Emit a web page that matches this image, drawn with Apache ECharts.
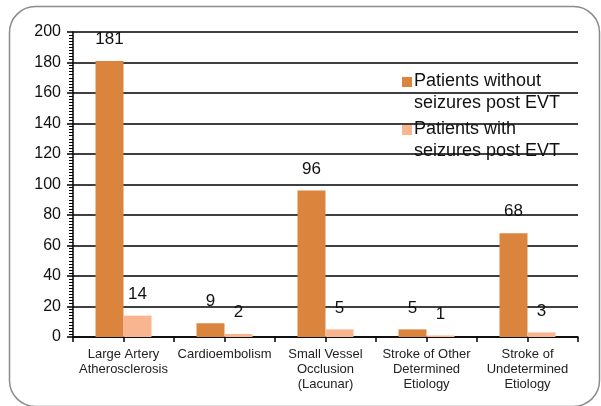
<!DOCTYPE html>
<html lang="en">
<head>
    <meta charset="UTF-8">
    <title>Seizures post EVT by stroke etiology</title>
    <script src="https://cdn.jsdelivr.net/npm/echarts@6/dist/echarts.min.js"></script>
    <style>
        html, body { margin: 0; padding: 0; background: #fff; }
    </style>
</head>
<body>
    <div id="main" style="width: 601px;height:406px;"></div>
    <script type="text/javascript">
        // 数据
        var categories = [
            'Large Artery\nAtherosclerosis',
            'Cardioembolism',
            'Small Vessel\nOcclusion\n(Lacunar)',
            'Stroke of Other\nDetermined\nEtiology',
            'Stroke of\nUndetermined\nEtiology'
        ];
        var withoutSeizures = [181, 9, 96, 5, 68];
        var withSeizures = [14, 2, 5, 1, 3];
        var seriesNames = ['Patients without\nseizures post EVT', 'Patients with\nseizures post EVT'];
        var yTicks = { min: 0, max: 200, interval: 20 };

        var myChart = echarts.init(document.getElementById('main'));
        var font = 'Liberation Sans, Arial, sans-serif';
        // 图例图标：方块在上，对齐第一行文字
        var legendIcon = 'path://M0,0L10,0L10,10L0,10Z M0,30L0.001,30';

        var option = {
            animation: false,
            textStyle: { fontFamily: font },
            graphic: [{
                type: 'rect',
                left: 7, top: 4,
                shape: { width: 590, height: 400, r: 26 },
                style: { fill: 'none', stroke: '#8c8c8c', lineWidth: 1.5 },
                z: -1
            }],
            legend: {
                orient: 'vertical',
                left: 402,
                top: 70,
                padding: 0,
                itemWidth: 10,
                itemHeight: 30,
                itemGap: 4,
                icon: legendIcon,
                textStyle: { fontFamily: font, fontSize: 18, color: '#111', lineHeight: 22, padding: [0, 0, 0, -3] },
                data: seriesNames
            },
            grid: { left: 73, right: 23, top: 32, bottom: 69 },
            xAxis: [{
                type: 'category',
                data: categories,
                axisLine: { lineStyle: { color: '#000', width: 1.5 } },
                axisTick: { show: false },
                axisLabel: { fontFamily: font, fontSize: 13, color: '#222', lineHeight: 15, margin: 10, interval: 0 }
            }, {
                // 仅用于绘制半类目刻度
                type: 'category',
                position: 'bottom',
                data: ['', '', '', '', '', '', '', '', '', ''],
                axisLine: { show: false },
                axisTick: { show: true, length: 5, lineStyle: { color: '#000', width: 1.5 } },
                axisLabel: { show: false }
            }],
            yAxis: {
                type: 'value',
                min: yTicks.min,
                max: yTicks.max,
                interval: yTicks.interval,
                axisLine: { show: true, lineStyle: { color: '#000', width: 1.5 } },
                axisTick: { show: true, length: 6, lineStyle: { color: '#000', width: 1.5 } },
                minorTick: { show: true, splitNumber: 10, length: 4, lineStyle: { color: '#000', width: 1 } },
                splitLine: { lineStyle: { color: '#000', width: 1.5 } },
                axisLabel: { fontFamily: font, fontSize: 16, color: '#111', margin: 12 }
            },
            series: [{
                name: seriesNames[0],
                type: 'bar',
                data: withoutSeizures,
                barWidth: 28,
                barGap: '0%',
                itemStyle: { color: '#DB843D' },
                label: { show: true, position: 'top', distance: 13, fontFamily: font, fontSize: 17, color: '#111' }
            }, {
                name: seriesNames[1],
                type: 'bar',
                data: withSeizures,
                barWidth: 28,
                barGap: '0%',
                itemStyle: { color: '#F9B590' },
                label: { show: true, position: 'top', distance: 13, fontFamily: font, fontSize: 17, color: '#111' }
            }]
        };

        myChart.setOption(option);
    </script>
</body>
</html>
